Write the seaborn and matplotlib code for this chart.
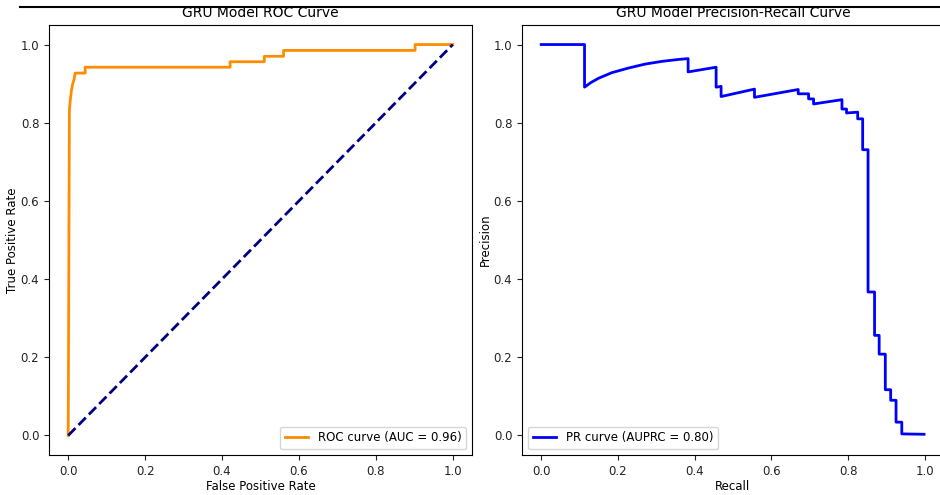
import matplotlib
matplotlib.use("Agg")
import matplotlib.pyplot as plt
import seaborn as sns
from matplotlib.lines import Line2D

# ROC data
roc_fpr = [0.0, 0.003, 0.005, 0.008, 0.011, 0.015, 0.018, 0.044, 0.044, 0.421, 0.421,
           0.510, 0.510, 0.560, 0.560, 0.902, 0.902, 1.0]
roc_tpr = [0.0, 0.830, 0.855, 0.880, 0.897, 0.910, 0.927, 0.927, 0.942, 0.942, 0.956,
           0.956, 0.970, 0.970, 0.985, 0.985, 1.0, 1.0]
roc_auc = 0.96

# Precision-recall data
pr_recall = [0.0, 0.113, 0.113, 0.130, 0.150, 0.184, 0.228, 0.271, 0.315, 0.359, 0.383, 0.383,
             0.456, 0.456, 0.469, 0.469, 0.556, 0.556, 0.670, 0.670, 0.697, 0.697,
             0.710, 0.710, 0.784, 0.784, 0.796, 0.796, 0.825, 0.825, 0.838, 0.838,
             0.852, 0.852, 0.869, 0.869, 0.881, 0.881, 0.897, 0.897, 0.911, 0.911,
             0.925, 0.925, 0.940, 0.940, 0.998]
pr_precision = [1.0, 1.0, 0.891, 0.903, 0.914, 0.928, 0.940, 0.950, 0.957, 0.962, 0.964, 0.930,
                0.942, 0.891, 0.893, 0.867, 0.886, 0.865, 0.885, 0.874, 0.874, 0.861,
                0.861, 0.848, 0.859, 0.835, 0.835, 0.825, 0.827, 0.810, 0.810, 0.731,
                0.731, 0.367, 0.367, 0.256, 0.256, 0.208, 0.208, 0.117, 0.117, 0.090,
                0.090, 0.034, 0.034, 0.004, 0.003]
auprc = 0.80

ticks = [0.0, 0.2, 0.4, 0.6, 0.8, 1.0]

plt.rcParams['font.family'] = ['DejaVu Sans']
FS = 8.5

fig = plt.figure(figsize=(9.4, 4.95), dpi=100)
ax1 = fig.add_axes([49/940, 40/495, 423/940, 430/495])
ax2 = fig.add_axes([522/940, 40/495, 422/940, 430/495])

sns.lineplot(x=roc_fpr, y=roc_tpr, sort=False, estimator=None, ax=ax1,
             color='darkorange', lw=2, label=f'ROC curve (AUC = {roc_auc:.2f})')
sns.lineplot(x=[0, 1], y=[0, 1], sort=False, estimator=None, ax=ax1,
             color='navy', lw=2, linestyle='--')
ax1.set_xlabel('False Positive Rate', fontsize=FS, labelpad=2)
ax1.set_ylabel('True Positive Rate', fontsize=FS, labelpad=1)
ax1.set_title('GRU Model ROC Curve', fontsize=10, pad=6)
ax1.legend(loc='lower right', fontsize=FS)

sns.lineplot(x=pr_recall, y=pr_precision, sort=False, estimator=None, ax=ax2,
             color='blue', lw=2, label=f'PR curve (AUPRC = {auprc:.2f})')
ax2.set_xlabel('Recall', fontsize=FS, labelpad=2)
ax2.set_ylabel('Precision', fontsize=FS, labelpad=1)
ax2.set_title('GRU Model Precision-Recall Curve', fontsize=10, pad=6)
ax2.legend(loc='lower left', fontsize=FS)

for ax in (ax1, ax2):
    ax.set_xlim(-0.05, 1.05)
    ax.set_ylim(-0.05, 1.05)
    ax.set_xticks(ticks)
    ax.set_yticks(ticks)
    ax.tick_params(labelsize=FS, colors='#222222')

fig.add_artist(Line2D([20/940, 1.0], [1 - 7/495, 1 - 7/495], color='black', lw=1.5,
                      transform=fig.transFigure))

fig.savefig('out.png', dpi=100)
